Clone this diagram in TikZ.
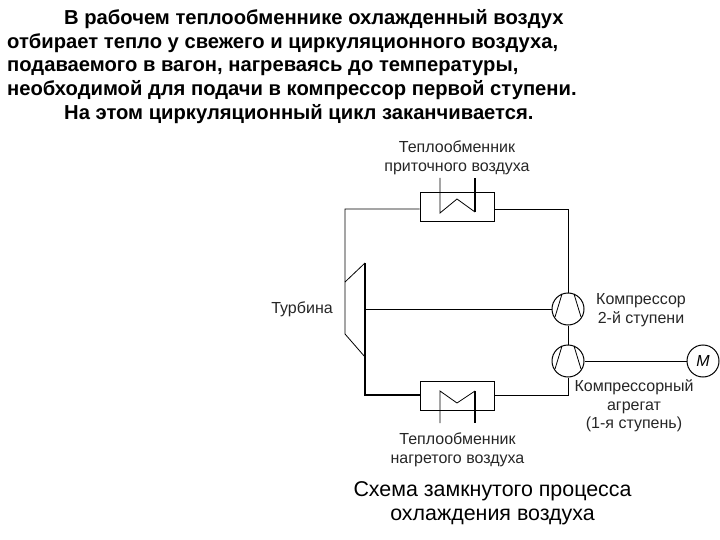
\documentclass[tikz,border=0pt]{standalone}
\usepackage{fontspec}
\setmainfont{Liberation Sans}
\usetikzlibrary{calc}
\tikzset{
	hxbox/.style={draw,line width=1pt,minimum width=74pt,minimum height=29pt,inner sep=0pt},
	machine/.style={draw,circle,line width=1pt,minimum size=32pt,inner sep=0pt},
	lbl/.style={align=center,inner sep=0pt,font=\fontsize{16}{18.5}\selectfont,text=black!85},
	conduit/.style={line width=0.8pt},
	heavy/.style={line width=1.8pt}
}
\begin{document}
\begin{tikzpicture}[x=1pt,y=-1pt]
	\useasboundingbox (0,0) rectangle (720,540);
	%% Paragraph
	\node[anchor=north west,align=left,inner sep=0pt,font=\fontsize{20.2}{23.8}\selectfont\bfseries] (intro) at (7,9)
	{\hspace*{57pt}В рабочем теплообменнике охлажденный воздух\\
		отбирает тепло у свежего и циркуляционного воздуха,\\
		подаваемого в вагон, нагреваясь до температуры,\\
		необходимой для подачи в компрессор первой ступени.\\
		\hspace*{57pt}На этом циркуляционный цикл заканчивается.};

	%% Machines
	\node[hxbox] (hxfresh) at (457,207) {};
	\node[hxbox] (hxwarm) at (457,396) {};
	\node[machine] (cpb) at (568,309) {};
	\node[machine] (cpa) at (568,361) {};
	\node[machine] (motor) at (703,361) {\fontsize{16}{16}\selectfont\itshape M};

	%% Turbine corners
	\coordinate (nw) at (345,209);
	\coordinate (ne) at (568,209);
	\coordinate (se) at (568,395);
	\coordinate (tuin) at (345,282);
	\coordinate (tuout) at (345,334);
	\coordinate (tutop) at (365,263);
	\coordinate (tubot) at (365,357);
	\coordinate (tucorner) at (365,395);
	\coordinate (tumid) at (365,309);

	%% Pipes
	\draw[conduit] (hxfresh.west |- nw) -- (nw) -- (tuout) -- (tubot);
	\draw[conduit] (tuin) -- (tutop);
	\draw[heavy] (tutop) -- (tubot);
	\draw[line width=1.3pt] (tubot) -- (tucorner) -- (hxwarm.west |- tucorner);
	\draw[conduit] (hxfresh.east |- ne) -- (ne) -- (cpb.north);
	\draw[conduit] (tumid) -- (cpb.west);
	\draw[conduit] (cpb.south) -- (cpa.north);
	\draw[conduit] (cpa.east) -- (motor.west);
	\draw[conduit] (cpa.south) -- (se) -- (hxwarm.east |- se);

	%% Compressor vanes
	\foreach \c in {cpa,cpb}{
		\draw[conduit] ($(\c)+(-6,-15)$) -- ($(\c)+(-13,8)$);
		\draw[conduit] ($(\c)+(6,-15)$) -- ($(\c)+(13,8)$);
	}

	%% Coils
	\coordinate (fa) at (440,178);
	\coordinate (fb) at (475,178);
	\coordinate (wa) at (440,423);
	\coordinate (wb) at (475,423);
	\draw[conduit] (fa) -- (440,213) -- (457,199) -- (475,212);
	\draw[heavy] (475,212) -- (fb);
	\draw[conduit] (wa) -- (440,391) -- (457,403) -- (475,391);
	\draw[heavy] (475,391) -- (wb);

	%% Labels
	\node[lbl] (lfresh) at (457,158) {Теплообменник\\приточного воздуха};
	\node[lbl] (lwarm) at (457.5,450) {Теплообменник\\нагретого воздуха};
	\node[lbl] (lturb) at (302,309) {Турбина};
	\node[lbl] (lcpb) at (641,310) {Компрессор\\2-й ступени};
	\node[lbl] (lcpa) at (634,406) {Компрессорный\\агрегат\\(1-я ступень)};
	\node[align=center,inner sep=0pt,font=\fontsize{21.4}{24}\selectfont] (title) at (492.5,503)
	{Схема замкнутого процесса\\охлаждения воздуха};
\end{tikzpicture}
\end{document}
